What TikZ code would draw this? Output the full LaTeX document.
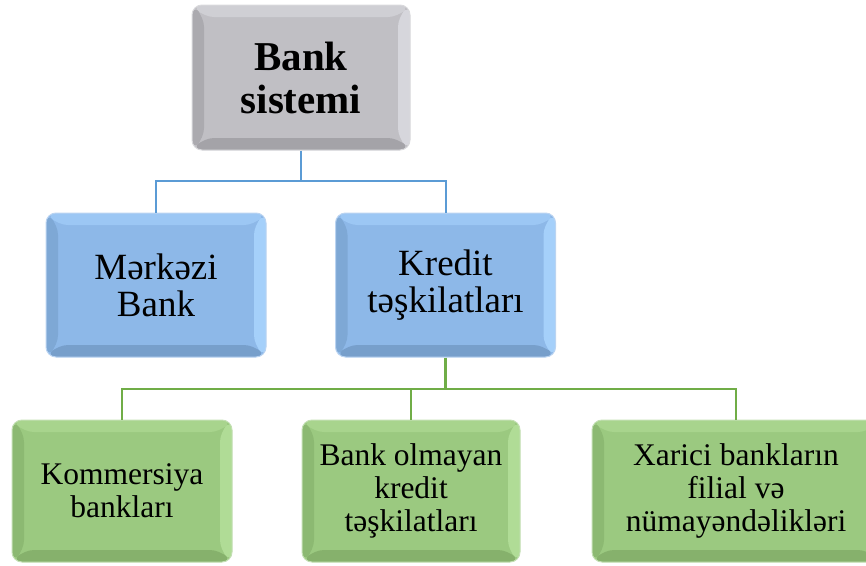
\documentclass[tikz,border=0pt]{standalone}
\usepackage{fontspec}
\setmainfont{Liberation Serif}
\begin{document}
\begin{tikzpicture}[x=1pt,y=-1pt]
\def\bw{12pt}
\newcommand\bevelfill[4]{%
  \fill[#1] (path picture bounding box.north west) -- (path picture bounding box.north east)
    -- ([shift={(-\bw,-\bw)}]path picture bounding box.north east) -- ([shift={(\bw,-\bw)}]path picture bounding box.north west) -- cycle;
  \fill[#4] (path picture bounding box.north east) -- (path picture bounding box.south east)
    -- ([shift={(-\bw,\bw)}]path picture bounding box.south east) -- ([shift={(-\bw,-\bw)}]path picture bounding box.north east) -- cycle;
  \fill[#3] (path picture bounding box.south west) -- (path picture bounding box.south east)
    -- ([shift={(-\bw,\bw)}]path picture bounding box.south east) -- ([shift={(\bw,\bw)}]path picture bounding box.south west) -- cycle;
  \fill[#2] (path picture bounding box.north west) -- (path picture bounding box.south west)
    -- ([shift={(\bw,\bw)}]path picture bounding box.south west) -- ([shift={(\bw,-\bw)}]path picture bounding box.north west) -- cycle;
}
\definecolor{grayF}{HTML}{C0BFC4}\definecolor{grayL}{HTML}{CFCFD4}\definecolor{grayD}{HTML}{ABAAAF}\definecolor{grayB}{HTML}{A4A3A8}\definecolor{grayR}{HTML}{D6D6DC}
\definecolor{blueF}{HTML}{8DB8E8}\definecolor{blueL}{HTML}{9CC7F4}\definecolor{blueD}{HTML}{7EA8D5}\definecolor{blueB}{HTML}{779FCB}\definecolor{blueR}{HTML}{A5D0FA}
\definecolor{grnF}{HTML}{9BC980}\definecolor{grnL}{HTML}{A8D48D}\definecolor{grnD}{HTML}{8CB972}\definecolor{grnB}{HTML}{86B16C}\definecolor{grnR}{HTML}{B0DC96}
\definecolor{conB}{HTML}{5B9BD5}\definecolor{conG}{HTML}{70AD47}
\tikzset{
  boxbase/.style={rectangle, rounded corners=10pt, inner sep=0pt, align=center, text=black},
  graybox/.style={boxbase, fill=grayF, draw=grayF!60!white, line width=1pt,
    path picture={\bevelfill{grayL}{grayD}{grayB}{grayR}},
    minimum width=218pt, minimum height=145pt, font=\fontsize{41}{43}\selectfont\bfseries},
  bluebox/.style={boxbase, fill=blueF, draw=blueF!60!white, line width=1pt,
    path picture={\bevelfill{blueL}{blueD}{blueB}{blueR}},
    minimum width=220pt, minimum height=144pt, font=\fontsize{37}{37}\selectfont},
  greenbox/.style={boxbase, fill=grnF, draw=grnF!60!white, line width=1pt,
    path picture={\bevelfill{grnL}{grnD}{grnB}{grnR}},
    minimum height=142pt, font=\fontsize{31.5}{33}\selectfont},
  bcon/.style={draw=conB, line width=2pt},
  gcon/.style={draw=conG, line width=2.6pt},
}
\useasboundingbox (0,0) rectangle (866,565);
\clip (0,0) rectangle (866,565);
\node[graybox] (top) at (301,77.5) {Bank\\sistemi};
\node[bluebox] (mb) at (156,285) {Mərkəzi\\Bank};
\node[bluebox] (kt) at (445.5,285) {Kredit\\təşkilatları};
\node[greenbox, minimum width=220pt] (g1) at (122,491) {Kommersiya\\bankları};
\node[greenbox, minimum width=218pt] (g2) at (411,491) {Bank olmayan\\kredit\\təşkilatları};
\node[greenbox, minimum width=288pt] (g3) at (736,491) {Xarici bankların\\filial və\\nümayəndəlikləri};
\coordinate (j1) at (301,181);
\coordinate (j2) at (445,389);
\draw[bcon] (top.south) -- (top.south |- j1);
\draw[bcon] (top.south |- j1) -| (mb.north);
\draw[bcon] (top.south |- j1) -| (kt.north);
\draw[gcon] (kt.south) -- (kt.south |- j2);
\draw[gcon] (kt.south |- j2) -| (g1.north);
\draw[gcon] (kt.south |- j2) -| (g2.north);
\draw[gcon] (kt.south |- j2) -| (g3.north);
\end{tikzpicture}
\end{document}
